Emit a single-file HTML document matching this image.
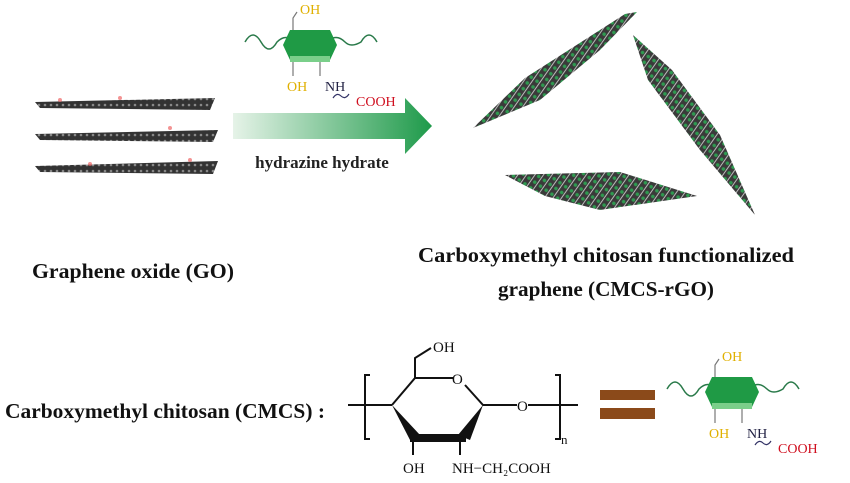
<!DOCTYPE html>
<html><head><style>
body{margin:0;background:#fff;}
svg{display:block;font-family:"Liberation Serif",serif;font-weight:bold;}
</style></head><body>
<svg width="850" height="483" viewBox="0 0 850 483">
<defs>
<linearGradient id="ag" x1="0" x2="1"><stop offset="0" stop-color="#e6f3e8"/><stop offset="1" stop-color="#1e9a4a"/></linearGradient>
<pattern id="gr" width="6" height="6" patternUnits="userSpaceOnUse"><rect width="6" height="6" fill="#333"/><circle cx="3" cy="3" r="1.3" fill="#888"/></pattern>
<pattern id="gg" width="7" height="7" patternUnits="userSpaceOnUse" patternTransform="rotate(35)"><rect width="7" height="7" fill="#3a3a3a"/><circle cx="3.5" cy="3.5" r="1.8" fill="#2f9a50"/><rect x="6" width="1" height="7" fill="#bbb"/></pattern>
</defs>
<polygon points="35,102 215,98 210,110 40,108" fill="url(#gr)"/>
<polygon points="35,134 218,130 213,142 40,140" fill="url(#gr)"/>
<polygon points="35,166 218,161 213,174 40,172" fill="url(#gr)"/>
<g fill="#e66" opacity=".7"><circle cx="60" cy="100" r="2"/><circle cx="120" cy="98" r="2"/><circle cx="170" cy="128" r="2"/><circle cx="90" cy="164" r="2"/><circle cx="190" cy="160" r="2"/></g>
<polygon points="233,113 405,113 405,98 432,126 405,154 405,139 233,139" fill="url(#ag)"/>
<text x="322" y="168" font-size="17" text-anchor="middle" fill="#222">hydrazine hydrate</text>
<g id="sc">
<path d="M245,42 q8,-14 16,0 t16,0 q6,-6 12,-4" fill="none" stroke="#2a7a4a" stroke-width="1.5"/>
<path d="M333,38 q6,-2 12,4 t16,0 q8,-14 16,0" fill="none" stroke="#2a7a4a" stroke-width="1.5"/>
<polygon points="290,30 330,30 337,45 330,60 290,60 283,45" fill="#1f9a45"/>
<rect x="290" y="56" width="40" height="6" fill="#7acf8a"/>
<path d="M293,30 v-12 l4,-6" fill="none" stroke="#777" stroke-width="1.2"/>
<line x1="293" y1="62" x2="293" y2="76" stroke="#777" stroke-width="1.2"/>
<line x1="320" y1="62" x2="320" y2="76" stroke="#777" stroke-width="1.2"/>
<path d="M333,98 q4,-6 8,-2 q4,4 8,-2" fill="none" stroke="#336" stroke-width="1.2"/>
<text x="300" y="14" font-size="14" fill="#e0b000" font-weight="normal">OH</text>
<text x="287" y="91" font-size="14" fill="#e0b000" font-weight="normal">OH</text>
<text x="325" y="91" font-size="14" fill="#224" font-weight="normal">NH</text>
<text x="356" y="106" font-size="14" fill="#d01020" font-weight="normal">COOH</text>
</g>
<polygon points="473,128 525,78 625,14 637,12 600,50 540,100" fill="url(#gg)"/>
<polygon points="633,35 672,70 720,135 755,215 700,150 648,80" fill="url(#gg)"/>
<polygon points="505,175 620,172 697,196 600,210 545,196" fill="url(#gg)"/>
<text x="32" y="278" font-size="21" fill="#111" textLength="202" lengthAdjust="spacingAndGlyphs">Graphene oxide (GO)</text>
<text x="418" y="262" font-size="21" fill="#111" textLength="376" lengthAdjust="spacingAndGlyphs">Carboxymethyl chitosan functionalized</text>
<text x="498" y="296" font-size="21" fill="#111" textLength="216" lengthAdjust="spacingAndGlyphs">graphene (CMCS-rGO)</text>
<text x="5" y="418" font-size="21" fill="#111" textLength="320" lengthAdjust="spacingAndGlyphs">Carboxymethyl chitosan (CMCS) :</text>
<g stroke="#111" stroke-width="2" fill="none">
<line x1="348" y1="405" x2="392" y2="405"/>
<path d="M370,375 h-5 v64 h5"/>
<path d="M555,375 h5 v64 h-5"/>
<line x1="528" y1="405" x2="578" y2="405"/>
<polyline points="392,405 415,378 453,378"/>
<polyline points="465,385 483,405 517,405"/>
<path d="M415,378 v-20 l16,-10"/>
<line x1="413" y1="440" x2="413" y2="455"/>
<line x1="460" y1="440" x2="460" y2="455"/>
</g>
<polygon points="392,405 410,440 420,435" fill="#111"/>
<polygon points="410,434 466,434 466,442 410,442" fill="#111"/>
<polygon points="483,405 458,435 470,440" fill="#111"/>
<g font-size="15" fill="#111" font-weight="normal">
<text x="433" y="352">OH</text><text x="452" y="384">O</text><text x="517" y="411">O</text>
<text x="403" y="473">OH</text><text x="452" y="473">NH−CH₂COOH</text>
<text x="561" y="444" font-size="13">n</text>
</g>
<rect x="600" y="390" width="55" height="10" fill="#8b4a1a"/>
<rect x="600" y="408" width="55" height="11" fill="#8b4a1a"/>
<use href="#sc" transform="translate(422,347)"/>
</svg>
</body></html>
